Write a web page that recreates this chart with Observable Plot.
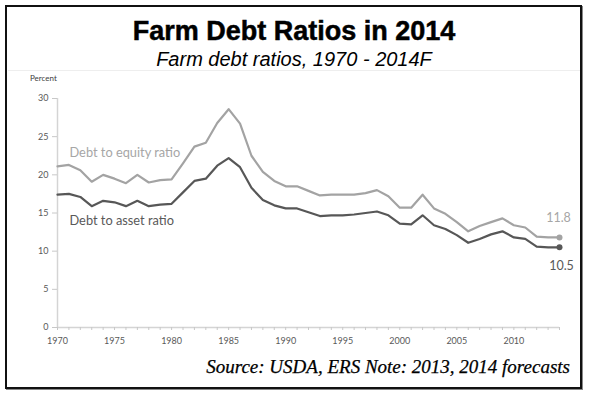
<!DOCTYPE html>
<html><head><meta charset="utf-8">
<script src="https://cdn.jsdelivr.net/npm/d3@7"></script>
<script src="https://cdn.jsdelivr.net/npm/@observablehq/plot@0.6"></script>
<style>
html,body{margin:0;padding:0;background:#fff;}
#wrap{position:relative;width:593px;height:395px;overflow:hidden;background:#fff;}
#frame{position:absolute;left:5px;top:5px;width:577px;height:384px;box-sizing:border-box;border:2px solid #111;box-shadow:1px 1px 0 #888;}
#sep{position:absolute;left:8px;width:572px;top:70px;height:1px;background:#eeeeee;}
#title{position:absolute;left:0;width:588px;top:15px;text-align:center;font:bold 27px "Liberation Sans",Arial,sans-serif;color:#000;line-height:32px;white-space:nowrap;-webkit-text-stroke:0.5px #000;}
#subtitle{position:absolute;left:0;width:588px;top:47px;text-align:center;font:italic 20px "Liberation Sans",Arial,sans-serif;color:#000;line-height:24px;white-space:nowrap;}
#caption{position:absolute;right:23px;top:356px;font:italic 19px "Liberation Serif","Times New Roman",serif;color:#000;line-height:22px;white-space:nowrap;-webkit-text-stroke:0.25px #000;}
#ylabel{position:absolute;left:30px;top:73px;font:8px Lato,sans-serif;color:#404040;line-height:10px;}
#chart{position:absolute;left:0;top:0;}
</style>
</head><body>
<div id="wrap">
  <div id="frame"></div>
  <div id="sep"></div>
  <div id="chart"></div>
  <div id="title">Farm Debt Ratios in 2014</div>
  <div id="subtitle">Farm debt ratios, 1970 - 2014F</div>
  <div id="ylabel">Percent</div>
  <div id="caption">Source: USDA, ERS Note: 2013, 2014 forecasts</div>
</div>
<script>
const years = [1970,1971,1972,1973,1974,1975,1976,1977,1978,1979,
  1980,1981,1982,1983,1984,1985,1986,1987,1988,1989,
  1990,1991,1992,1993,1994,1995,1996,1997,1998,1999,
  2000,2001,2002,2003,2004,2005,2006,2007,2008,2009,
  2010,2011,2012,2013,2014];
const debtToEquity = [21.1,21.3,20.6,19.1,20.0,19.5,18.9,20.0,19.0,19.3,
  19.4,21.5,23.7,24.2,26.8,28.6,26.7,22.5,20.4,19.2,
  18.5,18.5,17.9,17.3,17.4,17.4,17.4,17.6,18.0,17.2,
  15.7,15.7,17.4,15.6,14.9,13.8,12.6,13.3,13.8,14.3,
  13.4,13.1,11.9,11.8,11.8];
const debtToAsset = [17.4,17.5,17.1,15.9,16.6,16.4,15.9,16.6,15.9,16.1,
  16.2,17.7,19.2,19.5,21.2,22.2,21.0,18.3,16.7,16.0,
  15.6,15.6,15.1,14.6,14.7,14.7,14.8,15.0,15.2,14.7,
  13.6,13.5,14.7,13.4,12.9,12.1,11.1,11.6,12.2,12.6,
  11.8,11.6,10.6,10.5,10.5];
const yTicks = [0,5,10,15,20,25,30];
const xTickLabels = [1970,1975,1980,1985,1990,1995,2000,2005,2010];
const seriesNames = ["Debt to equity ratio","Debt to asset ratio"];

const equityColor = "#a3a3a3";
const assetColor = "#575757";

const equity = years.map((year, i) => ({year, value: debtToEquity[i]}));
const asset = years.map((year, i) => ({year, value: debtToAsset[i]}));
const lastEquity = equity[equity.length - 1];
const lastAsset = asset[asset.length - 1];

const chart = Plot.plot({
  width: 593,
  height: 395,
  marginLeft: 57,
  marginRight: 34,
  marginTop: 98,
  marginBottom: 68,
  style: {fontFamily: "Lato, sans-serif", background: "transparent", overflow: "visible"},
  x: {domain: [1970, 2014]},
  y: {domain: [0, 30]},
  marks: [
    Plot.ruleY([0], {stroke: "#d4d4d4", strokeWidth: 1.5}),
    Plot.ruleX([1970], {stroke: "#d4d4d4", strokeWidth: 1.5}),
    Plot.axisY({ticks: yTicks, tickSize: 5, tickPadding: 4, stroke: "#c8c8c8", fill: "#595959", fontSize: 9, label: null}),
    Plot.axisX({ticks: years, tickSize: 3, tickPadding: 7.5, stroke: "#c8c8c8", fill: "#595959", fontSize: 9, label: null,
      tickFormat: d => xTickLabels.includes(d) ? String(d) : ""}),
    Plot.line(equity, {x: "year", y: "value", stroke: equityColor, strokeWidth: 2.2}),
    Plot.line(asset, {x: "year", y: "value", stroke: assetColor, strokeWidth: 2.2}),
    Plot.dot([lastEquity], {x: "year", y: "value", r: 3, fill: equityColor}),
    Plot.dot([lastAsset], {x: "year", y: "value", r: 3, fill: assetColor}),
    Plot.text([lastEquity], {x: "year", y: "value", text: d => d.value.toFixed(1), dy: -19, dx: -1, fill: "#a6a6a6", fontSize: 12.5}),
    Plot.text([lastAsset], {x: "year", y: "value", text: d => d.value.toFixed(1), dy: 19, dx: 2, fill: "#595959", fontSize: 12.5}),
    Plot.text([seriesNames[0]], {x: 1971.05, y: 22.9, text: d => d, textAnchor: "start", fill: "#a6a6a6", fontSize: 12.8}),
    Plot.text([seriesNames[1]], {x: 1971.05, y: 14.0, text: d => d, textAnchor: "start", fill: "#595959", fontSize: 12.8})
  ]
});
document.getElementById("chart").appendChild(chart);
</script>
</body></html>
